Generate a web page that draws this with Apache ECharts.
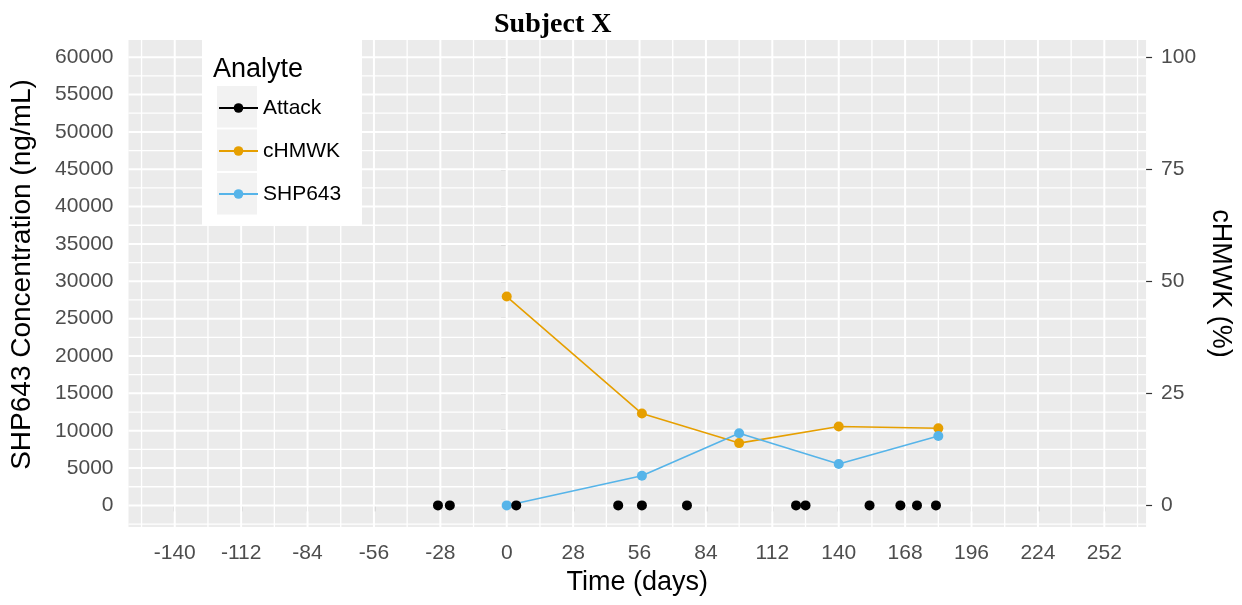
<!DOCTYPE html>
<html>
<head>
<meta charset="utf-8">
<script src="https://cdn.jsdelivr.net/npm/echarts@6/dist/echarts.min.js"></script>
<style>
  html, body { margin: 0; padding: 0; background: #ffffff; }
  #chart { width: 1242px; height: 605px; }
</style>
</head>
<body>
<div id="chart"></div>
<script>
// Tick labels
const dayTicks = [-140, -112, -84, -56, -28, 0, 28, 56, 84, 112, 140, 168, 196, 224, 252];
const concTicks = [0, 5000, 10000, 15000, 20000, 25000, 30000, 35000, 40000, 45000, 50000, 55000, 60000];
const pctTicks = [0, 25, 50, 75, 100];

// Attack days (plotted on the zero line)
const attackDays = [-29, -24, 4, 47, 57, 76, 122, 126, 153, 166, 173, 181];

// Sampling days with SHP643 concentration (ng/mL) and cHMWK (%)
const sampleDays = [0, 57, 98, 140, 182];
const shp643Conc = [0, 3980, 9650, 5540, 9290];
const chmwkPct = [46.6, 20.5, 13.9, 17.6, 17.2];

// Secondary axis: 100 % corresponds to 60000 ng/mL
const pctScale = 600;
const concMin = -2890, concMax = 62300;
const dayMin = -159.5, dayMax = 269.6;

const FONT = 'Liberation Sans, Arial, sans-serif';
const C_ATTACK = '#000000', C_CHMWK = '#E69F00', C_SHP = '#56B4E9';

// Gridlines: majors at tick labels, minors halfway between
const xMinor = dayTicks.map(v => v - 14).concat([dayTicks[dayTicks.length - 1] + 14])
  .filter(v => v > dayMin && v < dayMax);
const yMinor = concTicks.map(v => v - 2500).filter(v => v > concMin && v < concMax);

function vLineOf(width) {
  return function (params, api) {
    const cs = params.coordSys;
    const x = api.coord([api.value(0), 0])[0];
    return { type: 'line', silent: true,
      shape: { x1: x, y1: cs.y, x2: x, y2: cs.y + cs.height },
      style: { stroke: '#ffffff', lineWidth: width } };
  };
}
function hLineOf(width) {
  return function (params, api) {
    const cs = params.coordSys;
    const y = api.coord([0, api.value(0)])[1];
    return { type: 'line', silent: true,
      shape: { x1: cs.x, y1: y, x2: cs.x + cs.width, y2: y },
      style: { stroke: '#ffffff', lineWidth: width } };
  };
}
function gridSeries(values, dim, width) {
  return {
    type: 'custom', z: 1, silent: true, clip: true,
    renderItem: dim === 'x' ? vLineOf(width) : hLineOf(width),
    encode: dim === 'x' ? { x: 0, y: 1 } : { x: 1, y: 0 },
    data: values.map(v => [v, 0]),
    tooltip: { show: false }
  };
}

const chart = echarts.init(document.getElementById('chart'), null, { renderer: 'canvas' });

const tickStyle = { color: '#333333', width: 1.2 };
const labelStyle = { color: '#4D4D4D', fontSize: 21, fontFamily: FONT, formatter: v => String(v) };
const nameStyle = { color: '#000000', fontSize: 27, fontFamily: FONT };

chart.setOption({
  animation: false,
  backgroundColor: '#ffffff',
  title: [
    { text: 'Subject X', left: 494, top: 11, padding: 0,
      textStyle: { fontFamily: 'Liberation Serif, Times New Roman, serif', fontWeight: 'bold', fontSize: 28, color: '#000' } },
    { text: 'Analyte', left: 213, top: 56, padding: 0, z: 12,
      textStyle: { fontFamily: FONT, fontWeight: 'normal', fontSize: 27, color: '#000' } }
  ],
  graphic: [
    { type: 'rect', z: 5, silent: true, shape: { x: 202, y: 40, width: 160, height: 185 }, style: { fill: '#ffffff' } },
    { type: 'rect', z: 6, silent: true, shape: { x: 217, y: 86, width: 40, height: 41.5 }, style: { fill: '#F2F2F2' } },
    { type: 'rect', z: 6, silent: true, shape: { x: 217, y: 129.5, width: 40, height: 41.5 }, style: { fill: '#F2F2F2' } },
    { type: 'rect', z: 6, silent: true, shape: { x: 217, y: 173, width: 40, height: 41.5 }, style: { fill: '#F2F2F2' } }
  ],
  legend: {
    z: 10,
    orient: 'vertical',
    left: 218, top: 97.5, padding: 0,
    itemWidth: 39, itemHeight: 12, itemGap: 22,
    textStyle: { fontSize: 21, color: '#000', fontFamily: FONT },
    selectedMode: false,
    data: [
      { name: 'Attack', lineStyle: { color: C_ATTACK, width: 2, opacity: 1 } },
      { name: 'cHMWK' },
      { name: 'SHP643' }
    ]
  },
  grid: { left: 128.5, right: 93, top: 40, bottom: 78, show: true, backgroundColor: '#EBEBEB', borderWidth: 0 },
  xAxis: {
    type: 'value', min: dayMin, max: dayMax,
    axisLine: { show: false },
    axisTick: { show: true, customValues: dayTicks, length: 6, lineStyle: tickStyle },
    axisLabel: { customValues: dayTicks, margin: 16, ...labelStyle },
    splitLine: { show: false },
    name: 'Time (days)', nameLocation: 'middle', nameGap: 42, nameTextStyle: nameStyle
  },
  yAxis: [
    {
      type: 'value', position: 'left', min: concMin, max: concMax,
      axisLine: { show: false },
      axisTick: { show: true, customValues: concTicks, length: 6, lineStyle: tickStyle },
      axisLabel: { customValues: concTicks, margin: 15, ...labelStyle },
      splitLine: { show: false },
      name: 'SHP643 Concentration (ng/mL)', nameLocation: 'middle', nameRotate: 90, nameGap: 92,
      nameTextStyle: { ...nameStyle, fontSize: 28, padding: [0, 0, 0, 18] }
    },
    {
      type: 'value', position: 'right', min: concMin / pctScale, max: concMax / pctScale,
      axisLine: { show: false },
      axisTick: { show: true, customValues: pctTicks, length: 6, lineStyle: tickStyle },
      axisLabel: { customValues: pctTicks, margin: 15, ...labelStyle },
      splitLine: { show: false },
      name: 'cHMWK (%)', nameLocation: 'middle', nameRotate: -90, nameGap: 58,
      nameTextStyle: nameStyle
    }
  ],
  series: [
    gridSeries(xMinor, 'x', 1.3),
    gridSeries(dayTicks, 'x', 2.0),
    gridSeries(yMinor, 'y', 1.3),
    gridSeries(concTicks, 'y', 2.0),
    {
      name: 'cHMWK', type: 'line', yAxisIndex: 1, z: 3,
      data: sampleDays.map((d, i) => [d, chmwkPct[i]]),
      symbol: 'circle', symbolSize: 10, showSymbol: true,
      itemStyle: { color: C_CHMWK }, lineStyle: { color: C_CHMWK, width: 1.6 }
    },
    {
      name: 'SHP643', type: 'line', yAxisIndex: 0, z: 4,
      data: sampleDays.map((d, i) => [d, shp643Conc[i]]),
      symbol: 'circle', symbolSize: 10, showSymbol: true,
      itemStyle: { color: C_SHP }, lineStyle: { color: C_SHP, width: 1.6 }
    },
    {
      name: 'Attack', type: 'line', yAxisIndex: 0, z: 5,
      data: attackDays.map(d => [d, 0]),
      symbol: 'circle', symbolSize: 10, showSymbol: true,
      itemStyle: { color: C_ATTACK }, lineStyle: { width: 0, opacity: 0 }
    }
  ]
});
</script>
</body>
</html>
